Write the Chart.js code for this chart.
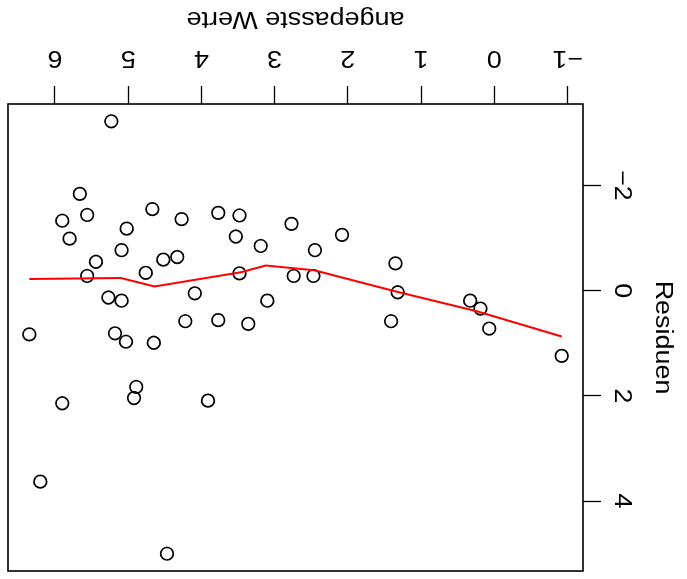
<!DOCTYPE html>
<html>
<head>
<meta charset="utf-8">
<title>Residuen gegen angepasste Werte</title>
<script src="https://cdn.jsdelivr.net/npm/chart.js@4.4.1/dist/chart.umd.min.js"></script>
<style>
  html, body { margin: 0; padding: 0; background: #fff; }
  #wrap { width: 687px; height: 579px; overflow: hidden; }
  /* the picture is the usual R residual plot turned upside down */
  #chart { display: block; transform: rotate(180deg); }
</style>
</head>
<body>
<div id="wrap"><canvas id="chart" width="687" height="579"></canvas></div>
<script>
// --- Data ---
const fitted = [5.23, 5.66, 5.90, 5.56, 5.80, 5.02, 4.67, 4.27, 3.77, 3.48, 3.53, 5.09, 5.44, 4.52, 4.33, 4.76,
                5.56, 3.48, 4.09, 5.27, 5.09, 4.22, 3.77, 6.35, 5.18, 3.19, 2.77, 2.08, 2.45, 1.35, 2.74, 2.47,
                3.10, 1.32, 3.36, 1.41, 0.33, 0.19, 0.07, -0.92, 5.03, 4.65, 4.89, 4.92, 5.90, 3.91, 6.20, 4.47];
const residuals = [-3.22, -1.84, -1.33, -1.44, -0.99, -1.18, -1.55, -1.36, -1.48, -1.43, -1.03, -0.77, -0.55, -0.59, -0.64, -0.34,
                   -0.28, -0.33, 0.05, 0.13, 0.19, 0.58, 0.56, 0.83, 0.81, -0.85, -1.27, -1.06, -0.77, -0.52, -0.28, -0.28,
                   0.19, 0.03, 0.63, 0.58, 0.19, 0.34, 0.72, 1.24, 0.97, 0.99, 1.83, 2.04, 2.14, 2.09, 3.63, 5.00];

// lowess smoother (red line)
const smoothX = [6.35, 5.10, 4.64, 3.46, 3.12, 2.46, 1.33, 0.24, -0.92];
const smoothY = [-0.22, -0.24, -0.08, -0.35, -0.48, -0.39, 0.02, 0.39, 0.87];

const xTicks = [-1, 0, 1, 2, 3, 4, 5, 6];
const yTicks = [-2, 0, 2, 4];
const xTitle = 'angepasste Werte';
const yTitle = 'Residuen';

// --- Settings ---
const FONT_SIZE = 23;
const TEXT_STRETCH = 1.17;   // the original lettering is wide
const FONT = FONT_SIZE + 'px "Liberation Sans", Arial, sans-serif';

// R style axis range: data range plus 4% on each side
function paddedRange(values) {
    const lo = Math.min(...values), hi = Math.max(...values);
    const pad = (hi - lo) * 0.04;
    return [lo - pad, hi + pad];
}
const [xMin, xMax] = paddedRange(fitted);
const [yMin, yMax] = paddedRange(residuals);

const fmt = v => (v < 0 ? '\u2212' + Math.abs(v) : String(v));

/** Draw one label centred on (x, y) **/
function drawText(ctx, text, x, y, angle) {
    ctx.save();
    ctx.translate(x, y);
    ctx.rotate(angle);
    ctx.scale(TEXT_STRETCH, 1);
    ctx.fillText(text, 0, 0.358 * FONT_SIZE);
    ctx.restore();
}

/** Box, tick labels and axis titles, R style **/
const rAxisLook = {
    id: 'rAxisLook',
    afterDraw(chart) {
        const { ctx, chartArea: a, scales: { x, y } } = chart;
        ctx.save();
        ctx.strokeStyle = '#000';
        ctx.lineWidth = 1.6;
        ctx.strokeRect(a.left, a.top, a.right - a.left, a.bottom - a.top);

        ctx.fillStyle = '#000';
        ctx.font = FONT;
        ctx.textAlign = 'center';
        ctx.textBaseline = 'alphabetic';
        xTicks.forEach(v => drawText(ctx, fmt(v), x.getPixelForValue(v), a.bottom + 45, 0));
        yTicks.forEach(v => drawText(ctx, fmt(v), a.left - 40, y.getPixelForValue(v), -Math.PI / 2));
        drawText(ctx, xTitle, (a.left + a.right) / 2, a.bottom + 84, 0);
        drawText(ctx, yTitle, a.left - 81, (a.top + a.bottom) / 2, -Math.PI / 2);
        ctx.restore();
    }
};

const tickGrid = { drawOnChartArea: false, drawTicks: true, tickLength: 18, tickColor: '#000', tickWidth: 1.3 };

new Chart(document.getElementById('chart'), {
    type: 'scatter',
    data: {
        datasets: [
            {
                type: 'line',
                label: 'lowess',
                data: smoothX.map((v, i) => ({ x: v, y: smoothY[i] })),
                borderColor: '#ff0000',
                borderWidth: 2,
                pointRadius: 0,
                tension: 0,
                fill: false,
                order: 0
            },
            {
                label: 'Residuen',
                data: fitted.map((v, i) => ({ x: v, y: residuals[i] })),
                pointRadius: 6.3,
                pointBorderWidth: 1.7,
                pointBorderColor: '#000',
                pointBackgroundColor: 'rgba(0,0,0,0)',
                order: 1
            }
        ]
    },
    options: {
        responsive: false,
        animation: false,
        devicePixelRatio: 1,
        layout: { padding: { top: 6, right: 6, left: 0, bottom: 0 } },
        plugins: { legend: { display: false }, tooltip: { enabled: false } },
        scales: {
            x: {
                type: 'linear',
                min: xMin,
                max: xMax,
                afterBuildTicks: s => { s.ticks = xTicks.map(v => ({ value: v })); },
                afterFit: s => { s.height = 104; },
                ticks: { display: false },
                grid: tickGrid,
                border: { display: false }
            },
            y: {
                type: 'linear',
                min: yMin,
                max: yMax,
                afterBuildTicks: s => { s.ticks = yTicks.map(v => ({ value: v })); },
                afterFit: s => { s.width = 104; },
                ticks: { display: false },
                grid: tickGrid,
                border: { display: false }
            }
        }
    },
    plugins: [rAxisLook]
});
</script>
</body>
</html>
